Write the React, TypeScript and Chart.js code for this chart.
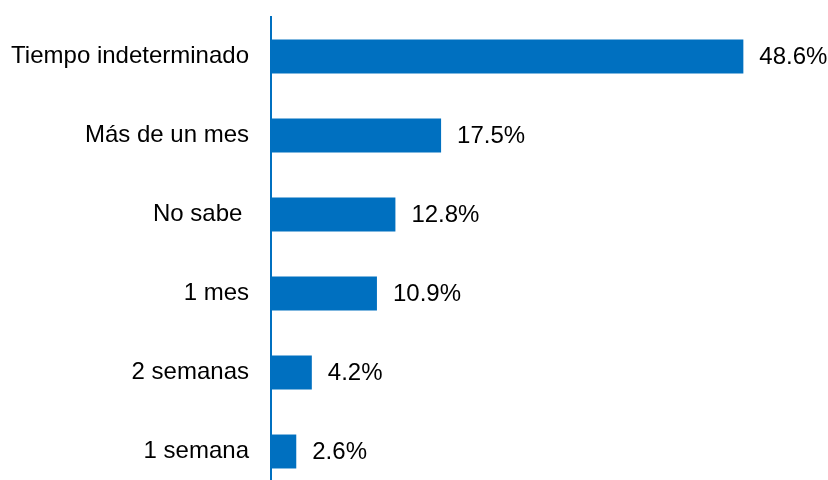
import React, { useEffect, useRef } from "react";
import { Chart, registerables } from "chart.js";

Chart.register(...registerables);

const categories = [
  "Tiempo indeterminado",
  "Más de un mes",
  "No sabe ",
  "1 mes",
  "2 semanas",
  "1 semana",
];
const values = [48.6, 17.5, 12.8, 10.9, 4.2, 2.6];
const valueLabels = ["48.6%", "17.5%", "12.8%", "10.9%", "4.2%", "2.6%"];

const FONT = '"Liberation Sans", Arial, Helvetica, sans-serif';
const BLUE = "#0070C0";

const valueLabelPlugin = {
  id: "valueLabels",
  afterDatasetsDraw(chart: any) {
    const ctx = chart.ctx;
    const meta = chart.getDatasetMeta(0);
    ctx.save();
    ctx.font = `24px ${FONT}`;
    ctx.fillStyle = "#000000";
    ctx.textAlign = "left";
    ctx.textBaseline = "middle";
    meta.data.forEach((bar: any, i: number) => {
      ctx.fillText(valueLabels[i], bar.x + 16, bar.y + 1);
    });
    ctx.restore();
  },
};

export default function App() {
  const ref = useRef<HTMLCanvasElement | null>(null);
  useEffect(() => {
    if (!ref.current) return;
    const chart = new Chart(ref.current, {
      type: "bar",
      data: {
        labels: categories,
        datasets: [
          {
            data: values,
            backgroundColor: BLUE,
            borderWidth: 0,
            barPercentage: 0.43,
            categoryPercentage: 1,
          },
        ],
      },
      options: {
        indexAxis: "y",
        animation: false,
        responsive: true,
        maintainAspectRatio: false,
        layout: { padding: { top: 17, right: 3, bottom: 0, left: 0 } },
        plugins: {
          legend: { display: false },
          tooltip: { enabled: false },
        },
        scales: {
          x: {
            display: false,
            min: 0,
            max: 57,
          },
          y: {
            afterFit: (scale: any) => {
              scale.width = 271;
              scale.paddingTop = 0;
              scale.paddingBottom = 0;
            },
            grid: { display: true, drawOnChartArea: false, drawTicks: false },
            border: { display: true, color: BLUE, width: 2 },
            ticks: {
              autoSkip: false,
              padding: 22,
              color: "#000000",
              font: { family: FONT, size: 24 },
            },
          },
        },
      },
      plugins: [valueLabelPlugin],
    });
    return () => chart.destroy();
  }, []);
  return (
    <div
      style={{
        position: "fixed",
        left: 0,
        top: 0,
        width: 828,
        height: 491,
        background: "#ffffff",
      }}
    >
      <canvas ref={ref} />
    </div>
  );
}
